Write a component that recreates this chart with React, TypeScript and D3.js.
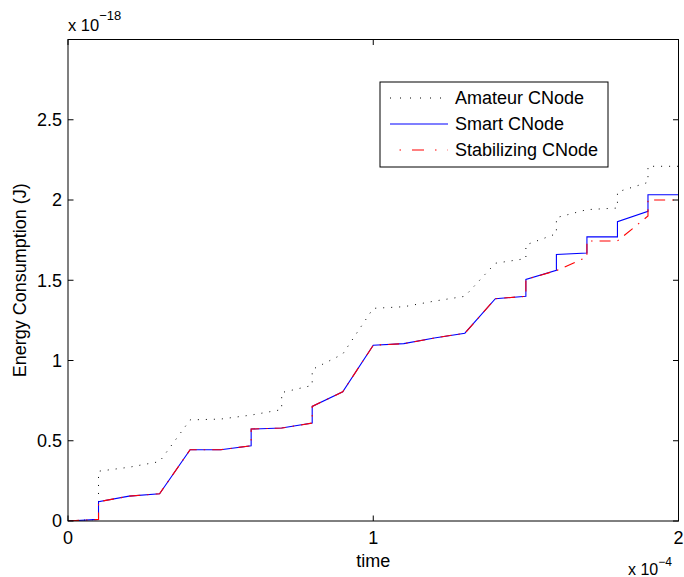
import React from "react";
import * as d3 from "d3";

// time in units of 1e-4, energy in units of 1e-18 J
const amateur: [number, number][] = [
  [0, 0], [0.1, 0.01], [0.1, 0.31], [0.2, 0.335], [0.3, 0.37], [0.4, 0.63],
  [0.5, 0.635], [0.6, 0.66], [0.7, 0.694], [0.7, 0.8], [0.8, 0.845], [0.8, 0.944],
  [0.9, 1.04], [1.0, 1.325], [1.1, 1.335], [1.2, 1.37], [1.3, 1.4], [1.4, 1.606],
  [1.5, 1.635], [1.5, 1.72], [1.6, 1.79], [1.6, 1.89], [1.7, 1.94], [1.8, 1.95],
  [1.8, 2.05], [1.9, 2.11], [1.9, 2.21], [2.0, 2.21],
];

const smart: [number, number][] = [
  [0, 0], [0.1, 0.01], [0.1, 0.12], [0.2, 0.155], [0.3, 0.17], [0.4, 0.444],
  [0.5, 0.444], [0.6, 0.469], [0.6, 0.573], [0.7, 0.579], [0.8, 0.61], [0.8, 0.714],
  [0.9, 0.805], [1.0, 1.095], [1.1, 1.105], [1.2, 1.14], [1.3, 1.17], [1.4, 1.385],
  [1.5, 1.4], [1.5, 1.505], [1.6, 1.562], [1.6, 1.66], [1.7, 1.67], [1.7, 1.77],
  [1.8, 1.77], [1.8, 1.865], [1.9, 1.93], [1.9, 2.033], [2.0, 2.033],
];

const stabilizing: [number, number][] = [
  [0, 0], [0.1, 0.01], [0.1, 0.12], [0.2, 0.155], [0.3, 0.17], [0.4, 0.444],
  [0.5, 0.444], [0.6, 0.469], [0.6, 0.573], [0.7, 0.579], [0.8, 0.61], [0.8, 0.714],
  [0.9, 0.805], [1.0, 1.095], [1.1, 1.105], [1.2, 1.14], [1.3, 1.17], [1.4, 1.385],
  [1.5, 1.4], [1.5, 1.505], [1.6, 1.56], [1.7, 1.645], [1.7, 1.745], [1.8, 1.745],
  [1.9, 1.9], [1.9, 2.0], [2.0, 2.0],
];

const xTicks = [0, 1, 2];
const yTicks = [0, 0.5, 1, 1.5, 2, 2.5];
const legendLabels = ["Amateur CNode", "Smart CNode", "Stabilizing CNode"];

const W = 684;
const H = 577;
const margin = { top: 39.5, right: 5.5, bottom: 56, left: 68 };
const font = "'Liberation Sans', Arial, Helvetica, sans-serif";
const fs = 18;

export default function App() {
  const x = d3.scaleLinear().domain([0, 2]).range([margin.left, W - margin.right]);
  const y = d3.scaleLinear().domain([0, 3]).range([H - margin.bottom, margin.top]);
  const line = d3
    .line<[number, number]>()
    .x((d) => x(d[0]))
    .y((d) => y(d[1]));

  const x0 = x.range()[0];
  const x1 = x.range()[1];
  const yB = y.range()[0];
  const yT = y.range()[1];
  const tl = 5.5;

  const styles = [
    { stroke: "#000", dash: "1 7", width: 1 },
    { stroke: "#0000ff", dash: undefined, width: 1.1 },
    { stroke: "#ff0000", dash: "11 7 1.5 7", width: 1.1 },
  ];
  const series = [amateur, smart, stabilizing];

  const legend = { x: 380, y: 82, w: 228, h: 85 };
  const rowY = [98, 124, 150];

  return (
    <div style={{ position: "fixed", left: 0, top: 0 }}>
      <svg width={W} height={H} style={{ display: "block", background: "#fff" }} fontFamily={font}>
        <rect x={0} y={0} width={W} height={H} fill="#fff" />
        <defs>
          <clipPath id="plot">
            <rect x={x0} y={yT} width={x1 - x0} height={yB - yT} />
          </clipPath>
        </defs>

        {/* series */}
        <g clipPath="url(#plot)">
          {series.map((s, i) => (
            <path
              key={i}
              d={line(s) ?? ""}
              fill="none"
              stroke={styles[i].stroke}
              strokeWidth={styles[i].width}
              strokeDasharray={styles[i].dash}
            />
          ))}
        </g>

        {/* box */}
        <rect x={x0} y={yT} width={x1 - x0} height={yB - yT} fill="none" stroke="#000" strokeWidth={1} />

        {/* ticks */}
        {xTicks.map((t) => (
          <g key={"x" + t}>
            <line x1={x(t)} x2={x(t)} y1={yB} y2={yB - tl} stroke="#000" />
            <line x1={x(t)} x2={x(t)} y1={yT} y2={yT + tl} stroke="#000" />
            <text x={x(t)} y={544} textAnchor="middle" fontSize={fs} fill="#000">
              {t}
            </text>
          </g>
        ))}
        {yTicks.map((t) => (
          <g key={"y" + t}>
            <line x1={x0} x2={x0 + tl} y1={y(t)} y2={y(t)} stroke="#000" />
            <line x1={x1} x2={x1 - tl} y1={y(t)} y2={y(t)} stroke="#000" />
            <text x={62} y={y(t)} dy="0.35em" textAnchor="end" fontSize={fs} fill="#000">
              {t}
            </text>
          </g>
        ))}

        {/* exponents */}
        <text x={68} y={31} fontSize={16.5} fill="#000">
          x 10
          <tspan dy={-11} fontSize={13}>−18</tspan>
        </text>
        <text x={628} y={575} fontSize={16} fill="#000">
          x 10
          <tspan dy={-9} fontSize={12}>−4</tspan>
        </text>

        {/* axis labels */}
        <text x={(x0 + x1) / 2} y={567} textAnchor="middle" fontSize={fs} fill="#000">
          time
        </text>
        <text
          transform={`translate(26,${(yB + yT) / 2}) rotate(-90)`}
          textAnchor="middle"
          fontSize={fs}
          fill="#000"
        >
          Energy Consumption (J)
        </text>

        {/* legend */}
        <rect x={legend.x} y={legend.y} width={legend.w} height={legend.h} fill="#fff" stroke="#000" strokeWidth={1} />
        {legendLabels.map((l, i) => (
          <g key={l}>
            <line
              x1={390}
              x2={448}
              y1={rowY[i]}
              y2={rowY[i]}
              stroke={styles[i].stroke}
              strokeWidth={styles[i].width}
              strokeDasharray={i === 0 ? "1 9" : i === 2 ? "12 11 1.5 11" : undefined}
              strokeDashoffset={i === 2 ? -22 : 0}
            />
            <text x={455} y={rowY[i]} dy="0.35em" fontSize={fs} fill="#000">
              {l}
            </text>
          </g>
        ))}
      </svg>
    </div>
  );
}
